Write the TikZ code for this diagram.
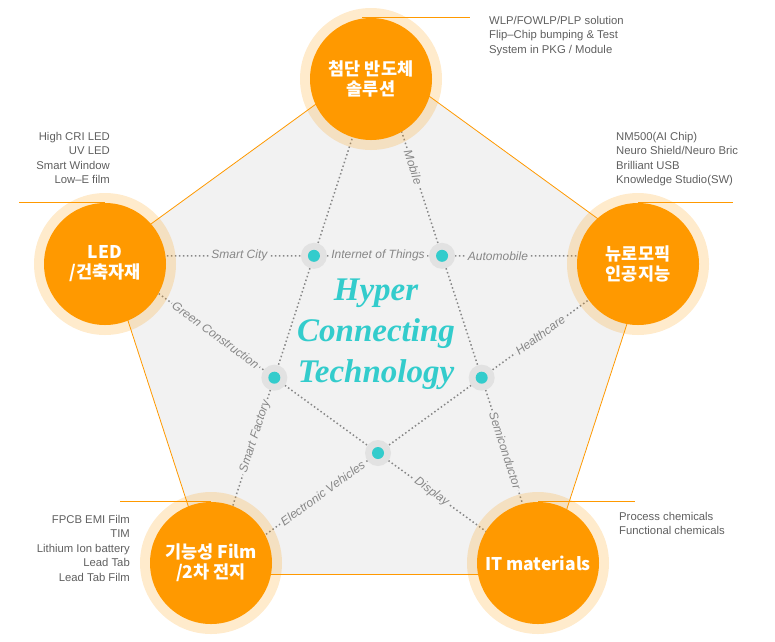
\documentclass[tikz,border=0pt]{standalone}
\usepackage{fontspec}
\setmainfont{Liberation Sans}
\newfontfamily\krfont{Noto Sans CJK KR}
\newfontfamily\hyperfont{Liberation Serif}
\usepackage{xcolor}
\usepackage{tikz}
\usetikzlibrary{calc}

\definecolor{hubOrange}{RGB}{255,153,0}
\definecolor{hubCyan}{RGB}{51,204,204}
\definecolor{paneGray}{RGB}{242,242,242}
\definecolor{haloGray}{RGB}{226,226,226}
\definecolor{linkGray}{RGB}{135,135,135}
\definecolor{noteGray}{RGB}{95,95,95}

\begin{document}
\begin{tikzpicture}[x=1pt, y=-1pt,
    hub/.style={circle, fill=hubOrange, minimum size=122pt, inner sep=0pt,
        text=white, align=center, font=\krfont\bfseries\fontsize{17.5}{20}\selectfont},
    ring/.style={fill=hubOrange, fill opacity=0.2},
    link/.style={linkGray, line width=1.5pt, dash pattern=on 1.5pt off 2.5pt},
    tag/.style={font=\fontsize{12}{13}\selectfont\itshape, text=linkGray,
        fill=paneGray, sloped, inner sep=2pt},
    note/.style={font=\fontsize{11.3}{14.5}\selectfont, text=noteGray, inner sep=0pt},
    leader/.style={hubOrange, line width=0.8pt},
    halo/.style={circle, fill=haloGray, minimum size=26pt, inner sep=0pt},
    joint/.style={circle, fill=hubCyan, minimum size=12pt, inner sep=0pt}]

    \useasboundingbox (0,0) rectangle (775,641);

    % Outer pentagon and inner junctions
    \coordinate (c) at (378,344);
    \foreach \n/\a in {pTop/-90, pRight/-18, pBr/54, pBl/126, pLeft/198}
        \coordinate (\n) at ($(c)+(\a:285)$);
    \foreach \n/\a in {jUR/-54, jUL/-126, jL/162, jB/90, jR/18}
        \coordinate (\n) at ($(c)+(\a:109)$);

    \draw[leader, fill=paneGray] (pTop) -- (pRight) -- (pBr) -- (pBl) -- (pLeft) -- cycle;

    % Dotted links of the star
    \draw[link] (pLeft) -- node[tag, pos=0.64] {Smart City} (jUL)
        -- node[tag] {Internet of Things} (jUR)
        -- node[tag, pos=0.27] {Automobile} (pRight);
    \draw[link] (pTop) -- (jUL) -- (jL) -- node[tag, pos=0.3] {Smart Factory} (pBl);
    \draw[link] (pTop) -- node[tag, pos=0.55] {Mobile} (jUR)
        -- (jR) -- node[tag, pos=0.37] {Semiconductor} (pBr);
    \draw[link] (pLeft) -- node[tag, pos=0.65] {Green Construction} (jL)
        -- (jB) -- node[tag, pos=0.32] {Display} (pBr);
    \draw[link] (pRight) -- node[tag, pos=0.65] {Healthcare} (jR)
        -- (jB) -- node[tag, pos=0.33] {Electronic Vehicles} (pBl);

    % Junction dots
    \foreach \j in {jUL, jUR, jR, jB, jL} {
        \node[halo] (h\j) at (\j) {};
        \node[joint] (d\j) at (\j) {};
    }

    % Hubs
    \foreach \n/\x/\y/\t in {semi/371/79/{첨단 반도체\\솔루션},
        led/105/264/{LED\\/건축자재},
        neuro/638/264/{뉴로모픽\\인공지능},
        film/211/563/{기능성 Film\\/2차 전지},
        itm/538/563/{IT materials}} {
        \fill[ring] (\x,\y) circle (71);
        \node[hub] (\n) at (\x,\y) {\t};
    }

    % Leaders and notes
    \draw[leader] (semi.north) ++(-9,0) -- ++(108,0);
    \node[note, anchor=north west, align=left] (semiNote) at (489,16)
        {WLP/FOWLP/PLP solution\\Flip–Chip bumping \& Test\\System in PKG / Module};

    \draw[leader] (led.north) -- ++(-86,0);
    \node[note, anchor=north east, align=right] (ledNote) at (110,132)
        {High CRI LED\\UV LED\\Smart Window\\Low–E film};

    \draw[leader] (neuro.north) -- ++(95,0);
    \node[note, anchor=north west, align=left] (neuroNote) at (616,132)
        {NM500(AI Chip)\\Neuro Shield/Neuro Bric\\Brilliant USB\\Knowledge Studio(SW)};

    \draw[leader] (film.north) -- ++(-91,0);
    \node[note, anchor=north east, align=right] (filmNote) at (130,515)
        {FPCB EMI Film\\TIM\\Lithium Ion battery\\Lead Tab\\Lead Tab Film};

    \draw[leader] (itm.north) -- ++(97,0);
    \node[note, anchor=north west, align=left] (itmNote) at (619,512)
        {Process chemicals\\Functional chemicals};

    % Title in the middle
    \node[font=\hyperfont\bfseries\itshape\fontsize{33}{41}\selectfont, text=hubCyan,
        align=center] (title) at (376,334) {Hyper\\Connecting\\Technology};
\end{tikzpicture}
\end{document}
